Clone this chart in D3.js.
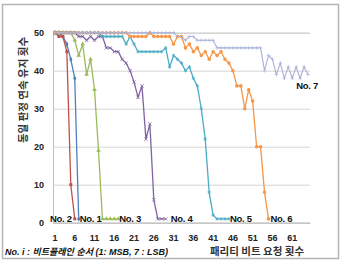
<!DOCTYPE html>
<html>
<head>
<meta charset="utf-8">
<script src="https://cdn.jsdelivr.net/npm/d3@7"></script>
<style>
  body { margin: 0; background: #fff; }
  svg text { font-family: "Liberation Sans", "Noto Sans CJK KR", sans-serif; }
  .tick-label { font-size: 9px; font-weight: bold; fill: #222; }
  .series-label { font-size: 9.5px; font-weight: bold; fill: #111; letter-spacing: -0.3px; }
  .title-kr { font-family: "Noto Sans CJK KR", sans-serif; font-size: 10.5px; font-weight: bold; fill: #333; }
</style>
</head>
<body>
<svg id="chart" width="344" height="266"></svg>
<script>
// categories (parity bit requests) 1..65
const categories = d3.range(1, 66);
const xTickLabels = [1, 6, 11, 16, 21, 26, 31, 36, 41, 46, 51, 56, 61];
const yTickLabels = [0, 10, 20, 30, 40, 50];

// series values, index 0 = request 1
const no1 = [50, 50, 49, 47, 43, 38, 1];
const no2 = [50, 49, 49, 45, 10, 1];
const no3 = [50, 50, 50, 50, 50, 48, 44, 47, 39, 43, 35, 19, 1, 1, 1, 1, 1];
const no4 = [50, 50, 50, 50, 50, 50, 49, 49, 48, 49, 48, 49, 49, 46, 46, 45, 45, 43, 42, 40,
             37, 33, 36, 22, 26, 6, 1, 1, 1];
const no5 = [50, 50, 50, 50, 50, 50, 50, 50, 50, 50, 50, 50, 49, 49, 49, 49, 49, 49, 47, 49,
             47, 45, 45, 45, 45, 45, 45, 45, 46, 41, 44, 43, 42, 40, 41, 38, 36, 30, 22, 8,
             2, 1, 1, 1, 1];
const no6 = [50, 50, 50, 50, 50, 50, 50, 50, 50, 50, 50, 50, 50, 50, 50, 50, 50, 50, 50, 49,
             49, 49, 49, 49, 50, 49, 49, 49, 49, 49, 47, 49, 49, 46, 47, 45, 46, 44, 45, 43,
             45, 44, 45, 43, 42, 40, 36, 36, 30, 35, 32, 20, 20, 8, 1];
const no7 = [50, 50, 50, 50, 50, 50, 50, 50, 50, 50, 50, 50, 50, 50, 50, 50, 50, 50, 50, 50,
             50, 50, 50, 50, 50, 50, 50, 50, 50, 50, 50, 49, 49, 48, 49, 49, 48, 48, 48, 48,
             48, 46, 46, 46, 46, 46, 46, 46, 46, 46, 46, 46, 46, 40, 44, 43, 39, 42, 38, 41,
             38, 41, 38, 41, 39];

const seriesValues = [no1, no2, no3, no4, no5, no6, no7];
const seriesColors = ["#4f81bd", "#c0504d", "#9bbb59", "#8064a2", "#4bacc6", "#f79646", "#a9b1d9"];
const seriesSymbols = [d3.symbolDiamond, d3.symbolSquare, d3.symbolTriangle, d3.symbolX,
                       d3.symbolAsterisk, d3.symbolCircle, d3.symbolPlus];

const svg = d3.select("#chart");
const plot = { left: 53, right: 310, top: 32.7, bottom: 222.7 };

// frame
svg.append("rect")
    .attr("x", 2.5).attr("y", 4.5)
    .attr("width", 336).attr("height", 254)
    .attr("fill", "#fff")
    .attr("stroke", "#b5b5b5")
    .attr("stroke-width", 1.5);

const x = d3.scaleBand().domain(categories).range([plot.left, plot.right]);
const cx = d => x(d) + x.bandwidth() / 2;
const y = d3.scaleLinear().domain([0, 50]).range([plot.bottom, plot.top]);

// horizontal gridlines + y labels
const yAxis = d3.axisLeft(y)
    .tickValues(yTickLabels)
    .tickSize(-(plot.right - plot.left))
    .tickPadding(9);
const gy = svg.append("g")
    .attr("transform", `translate(${plot.left},0)`)
    .call(yAxis);
gy.select(".domain").attr("stroke", "#bfbfbf");
gy.selectAll(".tick line").attr("stroke", "#d6d6d6");
gy.selectAll(".tick text").attr("class", "tick-label").attr("font-size", null).attr("font-family", null);

// x axis labels
const xAxis = d3.axisBottom(x)
    .tickValues(xTickLabels)
    .tickSize(0)
    .tickPadding(12);
const gx = svg.append("g")
    .attr("transform", `translate(0,${plot.bottom})`)
    .call(xAxis);
gx.select(".domain").attr("stroke", "#bfbfbf");
gx.selectAll(".tick text").attr("class", "tick-label").attr("font-size", null).attr("font-family", null);

// lines and markers
const line = d3.line()
    .x((d, i) => cx(categories[i]))
    .y(d => y(d));

seriesValues.forEach((vals, s) => {
    const g = svg.append("g").attr("class", "series");
    g.append("path")
        .datum(vals)
        .attr("d", line)
        .attr("fill", "none")
        .attr("stroke", seriesColors[s])
        .attr("stroke-width", s === 6 ? 1.1 : 1.3);
    const sym = d3.symbol().type(seriesSymbols[s]).size(s === 6 ? 6 : (s === 5 ? 10 : 9));
    const isStroke = s === 3 || s === 4 || s === 6;
    g.selectAll(".pt")
        .data(vals)
        .enter()
        .append("path")
        .attr("class", "pt")
        .attr("transform", (d, i) => `translate(${cx(categories[i])},${y(d)})`)
        .attr("d", sym)
        .attr("fill", isStroke ? "none" : seriesColors[s])
        .attr("stroke", isStroke ? seriesColors[s] : "none")
        .attr("stroke-width", s === 6 ? 0.6 : 0.8);
});

// series labels
const labelPos = [
    { name: "No. 2", i: 1, v: 1, dx: 0 },
    { name: "No. 1", i: 7, v: 1, dx: 1 },
    { name: "No. 3", i: 17, v: 1, dx: 1 },
    { name: "No. 4", i: 29, v: 1, dx: 5 },
    { name: "No. 5", i: 45, v: 1, dx: 1 },
    { name: "No. 6", i: 55, v: 1, dx: 2 },
    { name: "No. 7", i: 62, v: 36, dx: 0 }
];
svg.selectAll(".series-label")
    .data(labelPos)
    .enter()
    .append("text")
    .attr("class", "series-label")
    .attr("x", d => d.name === "No. 2" ? 50 : cx(d.i) + d.dx)
    .attr("y", d => y(d.v) + 3)
    .text(d => d.name);

// y title
svg.append("text")
    .attr("class", "title-kr")
    .attr("transform", `translate(27,90)rotate(-90)`)
    .attr("text-anchor", "middle")
    .text("동일 판정 연속 유지 횟수");

// x title
svg.append("text")
    .attr("class", "title-kr")
    .attr("x", 257)
    .attr("y", 255)
    .attr("text-anchor", "middle")
    .text("패리티 비트 요청 횟수");

// footnote
svg.append("text")
    .attr("x", 5)
    .attr("y", 255)
    .attr("font-size", "9px")
    .attr("font-weight", "bold")
    .attr("font-style", "italic")
    .attr("fill", "#111")
    .text("No. i : 비트플레인 순서 (1: MSB, 7 : LSB)");
</script>
</body>
</html>
